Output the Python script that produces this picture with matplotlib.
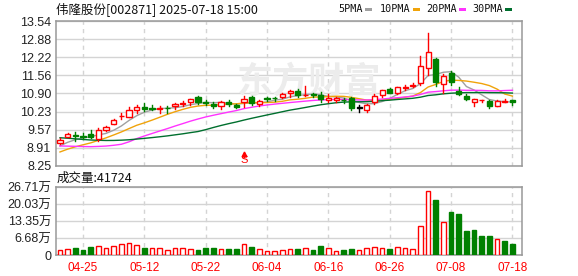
import numpy as np
import pandas as pd
import matplotlib
matplotlib.use('Agg')
import matplotlib.pyplot as plt
from matplotlib.patches import Rectangle

plt.rcParams['font.family'] = ['Liberation Sans', 'Noto Sans CJK SC']

# daily K-line, 2025-04-22 .. 2025-07-18
dates = ['04-22', '04-23', '04-24', '04-25', '04-28', '04-29', '04-30',
         '05-06', '05-07', '05-08', '05-09', '05-12', '05-13', '05-14', '05-15', '05-16',
         '05-19', '05-20', '05-21', '05-22', '05-23', '05-26', '05-27', '05-28', '05-29', '05-30',
         '06-03', '06-04', '06-05', '06-06', '06-09', '06-10', '06-11', '06-12', '06-13',
         '06-16', '06-17', '06-18', '06-19', '06-20', '06-23', '06-24', '06-25', '06-26', '06-27', '06-30',
         '07-01', '07-02', '07-03', '07-04', '07-07', '07-08', '07-09', '07-10', '07-11',
         '07-14', '07-15', '07-16', '07-17', '07-18']
opens = [9.10, 9.32, 9.37, 9.36, 9.42, 9.24, 9.57, 9.80, 10.06, 10.05,
         10.31, 10.40, 10.36, 10.33, 10.37, 10.43, 10.52, 10.57, 10.78, 10.58,
         10.50, 10.45, 10.58, 10.49, 10.57, 10.78, 10.52, 10.74, 10.73, 10.75,
         10.91, 11.00, 10.83, 10.86, 10.83, 10.66, 10.67, 10.67, 10.72, 10.38,
         10.29, 10.60, 10.85, 11.06, 10.93, 11.10, 11.17, 11.27, 11.84, 12.15,
         11.23, 11.63, 10.99, 10.80, 10.60, 10.64, 10.62, 10.43, 10.60, 10.66]
highs = [9.26, 9.44, 9.50, 9.45, 9.57, 9.62, 9.72, 9.97, 10.17, 10.41,
         10.46, 10.56, 10.48, 10.44, 10.44, 10.56, 10.62, 10.71, 10.79, 10.67,
         10.57, 10.63, 10.66, 10.52, 10.80, 10.80, 10.67, 10.76, 10.76, 10.91,
         11.01, 11.06, 11.18, 10.93, 10.96, 10.88, 10.75, 10.73, 10.76, 10.49,
         10.52, 10.88, 11.03, 11.10, 11.15, 11.19, 11.27, 12.26, 13.11, 12.18,
         11.61, 11.72, 11.12, 10.88, 10.71, 10.65, 10.66, 10.66, 10.70, 10.66]
lows = [9.07, 9.30, 9.18, 9.22, 9.28, 9.18, 9.54, 9.78, 9.97, 10.02,
        10.19, 10.25, 10.28, 10.20, 10.20, 10.33, 10.44, 10.49, 10.50, 10.49,
        10.35, 10.34, 10.44, 10.37, 10.39, 10.49, 10.45, 10.63, 10.63, 10.72,
        10.78, 10.78, 10.80, 10.76, 10.60, 10.58, 10.58, 10.56, 10.29, 10.23,
        10.23, 10.50, 10.78, 10.90, 10.88, 11.02, 11.14, 11.21, 11.57, 11.18,
        10.90, 11.22, 10.84, 10.65, 10.45, 10.57, 10.38, 10.43, 10.58, 10.49]
closes = [9.21, 9.43, 9.36, 9.30, 9.29, 9.55, 9.69, 9.94, 10.08, 10.30,
          10.41, 10.33, 10.34, 10.35, 10.36, 10.50, 10.54, 10.68, 10.57, 10.56,
          10.45, 10.60, 10.52, 10.40, 10.69, 10.56, 10.61, 10.68, 10.72, 10.88,
          10.97, 10.84, 10.85, 10.84, 10.71, 10.72, 10.73, 10.65, 10.36, 10.38,
          10.46, 10.79, 11.01, 10.93, 11.12, 11.13, 11.19, 11.90, 12.40, 11.33,
          11.53, 11.30, 10.89, 10.70, 10.69, 10.65, 10.44, 10.62, 10.61, 10.58]
# volume, 万手
vols = [1.96, 2.36, 2.88, 2.10, 3.27, 3.67, 2.88, 3.67, 4.32, 4.71,
        3.93, 2.88, 2.88, 2.88, 2.10, 2.88, 2.88, 2.36, 2.10, 2.62,
        2.88, 2.36, 2.49, 2.49, 4.32, 3.27, 2.36, 1.57, 1.57, 1.96,
        2.36, 2.49, 2.75, 2.10, 3.67, 2.75, 1.57, 2.10, 2.49, 1.96,
        2.75, 3.14, 2.75, 2.49, 3.14, 2.75, 2.36, 11.39, 25.30, 21.70,
        12.96, 17.00, 16.10, 9.55, 9.95, 7.60, 7.60, 6.28, 5.63, 4.17]
last_volume = 41724
# closes of the 29 sessions before 04-22 (only feed the moving averages)
prev_closes = [9.95, 10.02, 9.98, 9.90, 9.85, 9.92, 9.88, 9.80, 9.84, 9.66,
               9.55, 9.50, 9.45, 9.40, 9.36, 9.42, 9.39, 9.34, 8.50, 8.09,
               8.40, 8.52, 8.55, 8.60, 8.63, 8.78, 8.88, 8.98, 9.07]

tick_days = ['04-25', '05-12', '05-22', '06-04', '06-16', '06-26', '07-08', '07-18']
price_ticks = [8.25, 8.91, 9.57, 10.23, 10.90, 11.56, 12.22, 12.88, 13.54]
vol_ticks = [0, 6.68, 13.35, 20.03, 26.71]
vol_labels = ['0', '6.68万', '13.35万', '20.03万', '26.71万']
ma_days = [5, 10, 20, 30]
ma_colors = ['#a0a0a0', '#f0a30a', '#ff33ff', '#006f2e']
signal_day = '05-29'

UP = '#ff0000'
DOWN = '#008000'
GRID = '#d4d4d4'
FRAME = '#999999'

n = len(dates)
x = np.arange(n)
allc = pd.Series(prev_closes + closes)

fig = plt.figure(figsize=(5.78, 2.76), dpi=100)
W, H = 578.0, 276.0
axp = fig.add_axes([56 / W, 1 - 166 / H, 466 / W, 145 / H])
axv = fig.add_axes([56 / W, 1 - 255 / H, 466 / W, 68 / H])

tick_x = [dates.index(d) for d in tick_days]
for ax in (axp, axv):
    ax.set_xlim(-0.52, 60.25)
    for s in ax.spines.values():
        s.set_color(FRAME)
        s.set_linewidth(1.1)
    ax.tick_params(length=0, labelsize=9, colors='#222222')
    ax.grid(axis='y', color=GRID, lw=1)
    for t in tick_x:
        ax.axvline(t, color=GRID, lw=1, ls=(0, (3, 3)), zorder=0)
    ax.set_axisbelow(True)

# candles
bw = 0.66
for i in range(n):
    o, h, l, c = opens[i], highs[i], lows[i], closes[i]
    if c > o:
        col = UP
    elif c < o:
        col = DOWN
    else:
        col = 'black'
    axp.plot([i, i], [l, h], color=col, lw=1, zorder=3)
    lo, hi = min(o, c), max(o, c)
    axp.add_patch(Rectangle((i - bw / 2, lo), bw, max(hi - lo, 0.005),
                            facecolor='white' if c >= o else col,
                            edgecolor=col, lw=1, zorder=4))

# moving averages
for d, col in zip(ma_days, ma_colors):
    ma = allc.rolling(d).mean().values[len(prev_closes):]
    axp.plot(x, ma, color=col, lw=1, zorder=2)

axp.set_ylim(8.25, 13.54)
axp.set_yticks(price_ticks)
axp.set_yticklabels(['%.2f' % v for v in price_ticks])
axp.set_xticks(tick_x)
axp.set_xticklabels([])

# watermark
axp.text(32.5, 11.30, '东方财富', family=['Noto Sans CJK SC'], fontsize=26,
         fontweight='bold', color='#ececec', ha='center', va='center', zorder=1)

# buy/sell signal
si = dates.index(signal_day)
axp.plot([si], [8.70], marker='^', ms=3.5, color=UP, zorder=5)
axp.plot([si, si], [8.58, 8.68], color=UP, lw=1, zorder=5)
axp.text(si, 8.47, 'S', color=UP, fontsize=8, ha='center', va='center', zorder=5)

# volume, coloured by close against the previous close
ref_close = [prev_closes[-1]] + closes[:-1]
for i in range(n):
    up = closes[i] >= ref_close[i]
    col = UP if up else DOWN
    axv.add_patch(Rectangle((i - 0.31, 0), 0.62, vols[i],
                            facecolor='white' if up else col,
                            edgecolor=col, lw=1, zorder=3))
axv.set_ylim(0, 26.71)
axv.set_yticks(vol_ticks)
axv.set_yticklabels(vol_labels)
axv.set_xticks(tick_x)
axv.set_xticklabels(tick_days, color=UP, fontsize=8.5)
axv.tick_params(axis='x', pad=5)

# header texts
fig.text(56 / W, 1 - 9 / H, '伟隆股份[002871] 2025-07-18 15:00', fontsize=9,
         family=['Noto Sans CJK SC'], va='center', ha='left', color='#111111')
fig.text(57 / W, 1 - 178 / H, '成交量:%d' % last_volume, fontsize=9,
         family=['Noto Sans CJK SC'], va='center', ha='left', color='#111111')

legend_x = [338, 380, 426, 472]
for lx, d in zip(legend_x, ma_days):
    fig.text(lx / W, 1 - 9.5 / H, '%dPMA' % d, fontsize=7.3, family=['DejaVu Sans Mono'],
             va='center', ha='left', color='#111111')
rect_x = [365, 413, 459, 505]
for rx, col in zip(rect_x, ma_colors):
    fig.patches.append(Rectangle((rx / W, 1 - 11 / H), 7 / W, 3.5 / H,
                                 transform=fig.transFigure, facecolor=col, edgecolor='none'))

fig.savefig('out.png', dpi=100)
